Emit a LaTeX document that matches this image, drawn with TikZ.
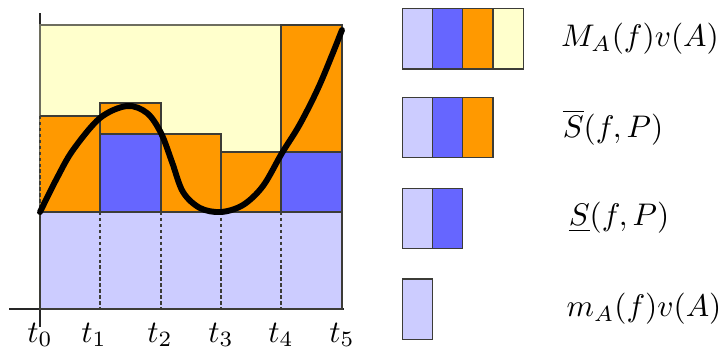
\documentclass[tikz,border=0pt]{standalone}
\definecolor{lblue}{RGB}{204,204,255}
\definecolor{mblue}{RGB}{102,102,255}
\definecolor{orng}{RGB}{255,153,0}
\definecolor{lyel}{RGB}{255,255,204}
\definecolor{edge}{RGB}{60,60,55}
\definecolor{yedge}{RGB}{110,110,95}
\begin{document}
\begin{tikzpicture}[x=0.32pt,y=-0.32pt,
  cell/.style={draw=edge,line width=0.45pt},
  dashline/.style={draw=edge,line width=0.45pt,dash pattern=on 1.1pt off 0.8pt},
  axisline/.style={draw=black!85,line width=0.45pt},
  curveline/.style={line width=1.9pt,line join=round,line cap=round},
  lab/.style={inner sep=0pt}]
\useasboundingbox (0,0) rectangle (726,349);
% axes (outside the filled area)
\draw[axisline] (9,309) -- (344,309);
\draw[axisline] (40,13) -- (40,327);
% upper bound M_A v(A)
\filldraw[fill=lyel,draw=yedge,line width=0.45pt] (40,25) rectangle (342,212);
% upper sum pieces
\fill[orng] (40,116) rectangle (100,212);
\draw[cell] (40,116) -- (100,116) -- (100,212);
\draw[dashline] (40,116) -- (40,212);
\filldraw[cell,fill=orng] (100,103) rectangle (161,212);
\filldraw[cell,fill=orng] (161,134) rectangle (221,212);
\filldraw[cell,fill=orng] (221,152) rectangle (281,212);
\filldraw[cell,fill=orng] (281,25) rectangle (342,212);
% lower sum pieces
\filldraw[cell,fill=mblue] (100,134) rectangle (161,212);
\filldraw[cell,fill=mblue] (281,152) rectangle (342,212);
% lower bound m_A v(A)
\filldraw[cell,fill=lblue] (40,212) rectangle (342,309);
\draw[dashline] (100,212) -- (100,309);
\draw[dashline] (161,212) -- (161,309);
\draw[dashline] (221,212) -- (221,309);
\draw[dashline] (281,212) -- (281,309);
% function
\draw[curveline] plot[smooth,tension=0.55] coordinates {
  (40,212) (57,178) (73,150) (100,118) (127,106) (147,113) (161,133)
  (172,162) (183,192) (200,208) (221,212) (243,205) (263,186) (282,153)
  (300,124) (320,84) (342,30)};
% tick labels
\node[lab] (t0) at (40,335) {$t_0$};
\node[lab] (t1) at (94,335) {$t_1$};
\node[lab] (t2) at (160,335) {$t_2$};
\node[lab] (t3) at (221,335) {$t_3$};
\node[lab] (t4) at (281,335) {$t_4$};
\node[lab] (t5) at (342,335) {$t_5$};
% legend
\filldraw[cell,fill=lblue] (402.7,8.3) rectangle (432.7,69);
\filldraw[cell,fill=mblue] (432.7,8.3) rectangle (462.7,69);
\filldraw[cell,fill=orng] (462.7,8.3) rectangle (493,69);
\filldraw[cell,fill=lyel] (493,8.3) rectangle (523.3,69);
\filldraw[cell,fill=lblue] (402.7,97.3) rectangle (432.7,157.7);
\filldraw[cell,fill=mblue] (432.7,97.3) rectangle (462.7,157.7);
\filldraw[cell,fill=orng] (462.7,97.3) rectangle (493,157.7);
\filldraw[cell,fill=lblue] (402.7,188.3) rectangle (432.7,248.3);
\filldraw[cell,fill=mblue] (432.7,188.3) rectangle (462.7,248.3);
\filldraw[cell,fill=lblue] (402.7,279) rectangle (432.7,339.3);
\node[lab] (l1) at (640,38.5) {$M_A(f)v(A)$};
\node[lab] (l2) at (613,127.5) {$\overline{S}(f,P)$};
\node[lab] (l3) at (619,218) {$\underline{S}(f,P)$};
\node[lab] (l4) at (644,309) {$m_A(f)v(A)$};
\end{tikzpicture}
\end{document}
